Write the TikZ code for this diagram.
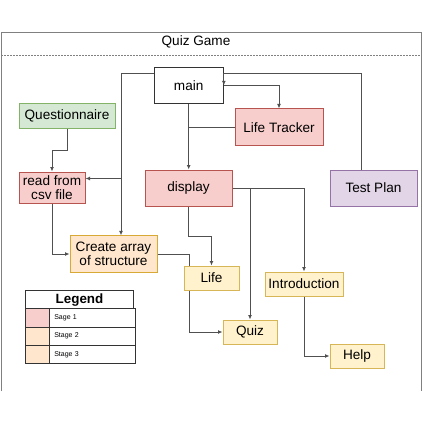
\documentclass[tikz,border=0pt]{standalone}
\usepackage{fontspec}
\setmainfont{Liberation Sans}
\usetikzlibrary{arrows.meta,calc}
\definecolor{redF}{HTML}{F8CECC}\definecolor{redD}{HTML}{B85450}
\definecolor{grnF}{HTML}{D5E8D4}\definecolor{grnD}{HTML}{82B366}
\definecolor{purF}{HTML}{E1D5E7}\definecolor{purD}{HTML}{9673A6}
\definecolor{yelF}{HTML}{FFF2CC}\definecolor{yelD}{HTML}{D6B656}
\definecolor{orgF}{HTML}{FFE6CC}\definecolor{orgD}{HTML}{D9A935}
\definecolor{lineC}{HTML}{505050}
\definecolor{frameC}{HTML}{808080}
\newcommand\fsMain{\fontsize{13.6}{15.6}\selectfont}
\newcommand\fsSmall{\fontsize{7}{8}\selectfont}
\begin{document}
\begin{tikzpicture}[x=1pt,y=-1pt,
  box/.style={draw, line width=1pt, inner sep=0pt, align=center, font=\fsMain},
  redbox/.style={box, fill=redF, draw=redD},
  grnbox/.style={box, fill=grnF, draw=grnD},
  purbox/.style={box, fill=purF, draw=purD},
  yelbox/.style={box, fill=yelF, draw=yelD},
  orgbox/.style={box, fill=orgF, draw=orgD},
  whtbox/.style={box, fill=white, draw=black!80},
  conn/.style={draw=lineC, line width=0.9pt},
  arr/.style={conn, -{Latex[length=4.5pt,width=4pt]}},
  frame/.style={draw=frameC, line width=1pt},
  lgcell/.style={draw=black!80, line width=1pt, inner sep=0pt, anchor=north west, minimum height=18.2pt},
]
\useasboundingbox (0,0) rectangle (423,423);
% frame
\draw[frame] (1.2,391) -- (1.2,32) -- (421.5,32) -- (421.5,391);
\draw[draw=frameC, line width=0.8pt, dash pattern=on 1.5pt off 1.5pt] (1.2,55) -- (421.5,55);
\node[font=\fsMain, inner sep=0pt] (title) at (196,41.5) {Quiz Game};

% nodes
\node[whtbox, minimum width=69.3pt, minimum height=36pt] (main) at (188.7,85.3) {main};
\node[grnbox, minimum width=96pt, minimum height=24.5pt] (quest) at (67,116) {Questionnaire};
\node[redbox, minimum width=88pt, minimum height=36.7pt] (lt) at (279,127.3) {Life Tracker};
\node[redbox, minimum width=66pt, minimum height=31pt] (read) at (52,187.5) {read from\\[-1.5pt]csv file};
\node[redbox, minimum width=87pt, minimum height=36pt] (disp) at (188.5,188) {display};
\node[purbox, minimum width=87pt, minimum height=36pt] (tp) at (373.5,188) {Test Plan};
\node[orgbox, minimum width=87pt, minimum height=36.3pt] (create) at (113.5,254) {Create array\\[-1.5pt]of structure};
\node[yelbox, minimum width=55pt, minimum height=24pt] (life) at (211.5,278) {Life};
\node[yelbox, minimum width=78pt, minimum height=24pt] (intro) at (304,284) {Introduction};
\node[yelbox, minimum width=54pt, minimum height=24pt] (quiz) at (250,332) {Quiz};
\node[yelbox, minimum width=54pt, minimum height=24pt] (help) at (357,356) {Help};

% connectors
\coordinate (jm) at (121,73.3);
\draw[arr] (main.west |- jm) -- (jm) |- ($(read.north east)+(0,7)$);
\draw[arr] (main.west |- jm) -- (jm) -- (jm |- create.north);
\draw[arr] (quest.south) -- ++(0,22) -| (read.north);
\draw[arr] (main.east) -| (lt.north);
\draw[arr] ($(tp.north)+(-11.8,0)$) |- (main.north east |- jm) -- (main.east);
\draw[arr] (main.south) -- (main.south |- disp.north);
\draw[conn] (lt.west) -- (main.south |- lt.west);
\draw[arr] (disp.south) -- ++(0,30) -| (life.north);
\draw[arr] (disp.east) -| (intro.north);
\draw[arr] (disp.east -| quiz.north) -- (quiz.north);
\draw[conn] (create.east) -| ($(life.north west)+(6.3,0)$);
\draw[arr] ($(life.south west)+(6.3,0)$) |- (quiz.west);
\draw[arr] (read.south) |- (create.west);
\draw[arr] (intro.south) |- (help.west);

% legend
\node[lgcell, fill=white, minimum width=108pt, minimum height=18.3pt, font=\fontsize{13.4}{15}\selectfont\bfseries] (lgh) at (25,290) {Legend};
\node[lgcell, fill=redF, minimum width=24.3pt] (c1) at (25,308.3) {};
\node[lgcell, fill=white, minimum width=83.7pt, font=\fsSmall, align=left, text width=77pt, inner xsep=4.5pt] (t1) at (49.3,308.3) {Sage 1};
\node[lgcell, fill=orgF, minimum width=24.3pt] (c2) at (25,326.5) {};
\node[lgcell, fill=white, minimum width=83.7pt, font=\fsSmall, align=left, text width=77pt, inner xsep=4.5pt] (t2) at (49.3,326.5) {Stage 2};
\node[lgcell, fill=orgF, minimum width=24.3pt] (c3) at (25,344.7) {};
\node[lgcell, fill=white, minimum width=83.7pt, font=\fsSmall, align=left, text width=77pt, inner xsep=4.5pt] (t3) at (49.3,344.7) {Stage 3};
\end{tikzpicture}
\end{document}
